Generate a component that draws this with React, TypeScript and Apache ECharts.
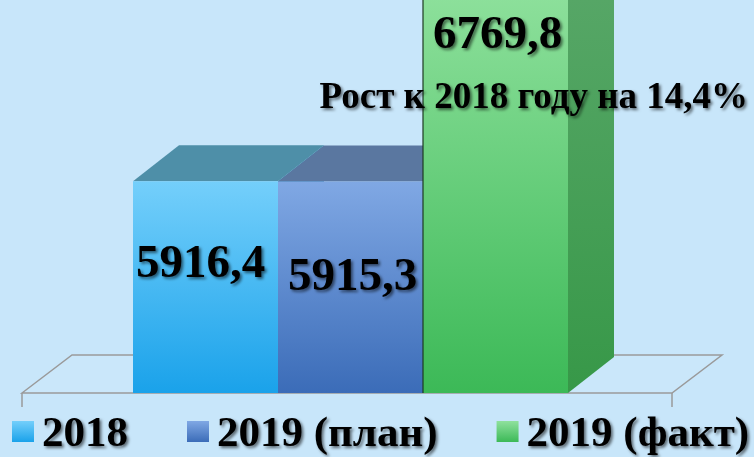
import React, { useEffect, useRef } from "react";
import * as echarts from "echarts";

const categories = ["2018", "2019 (план)", "2019 (факт)"];
const values = [5916.4, 5915.3, 6769.8];
const valueLabels = ["5916,4", "5915,3", "6769,8"];
const growthNote = "Рост к 2018 году на 14,4%";

const Y_MIN = 5000;
const Y_MAX = 6700;

const FONT = '"Liberation Serif", "Times New Roman", serif';
const BG = "#c8e6fa";

// Per-bar visual styles (not data)
const frontColors = [
  ["#74cffb", "#1aa2ea"],
  ["#80a8e4", "#3b6cb8"],
  ["#8fe19d", "#3cb957"],
];
const topColors = ["#4e8fa8", "#5a77a0", "#6cc07c"];
const sideColors = [
  ["#3b8fc0", "#1b7fc0"],
  ["#4d6f9c", "#2f5a96"],
  ["#5aa86a", "#379848"],
];
// label offsets relative to bar center / bar top
const labelDx = [-5, 2, 2];
const labelDy = [80, 93, 48];

const DEPTH_X = 46;
const DEPTH_Y = -36;

const shadowText = {
  textShadowColor: "rgba(0,0,0,0.55)",
  textShadowBlur: 3,
  textShadowOffsetX: 2,
  textShadowOffsetY: 2,
};

function vGrad(c: string[]) {
  return {
    type: "linear",
    x: 0,
    y: 0,
    x2: 0,
    y2: 1,
    colorStops: [
      { offset: 0, color: c[0] },
      { offset: 1, color: c[1] },
    ],
  };
}

function makeBarRender(i: number) {
  return (params: any, api: any) => {
    const idx = api.value(0);
    const v = api.value(1);
    const top = api.coord([idx, v]);
    const base = api.coord([idx, Y_MIN]);
    const bw = api.size([1, 0])[0];
    const x0 = top[0] - bw / 2;
    const x1 = top[0] + bw / 2;
    const yt = top[1];
    const yb = base[1];
    const children: any[] = [
      {
        type: "polygon",
        shape: {
          points: [
            [x1, yb],
            [x1 + DEPTH_X, yb + DEPTH_Y],
            [x1 + DEPTH_X, yt + DEPTH_Y],
            [x1, yt],
          ],
        },
        style: { fill: vGrad(sideColors[i]) },
      },
      {
        type: "polygon",
        shape: {
          points: [
            [x0, yt],
            [x0 + DEPTH_X, yt + DEPTH_Y],
            [x1 + DEPTH_X, yt + DEPTH_Y],
            [x1, yt],
          ],
        },
        style: { fill: topColors[i] },
      },
      {
        type: "rect",
        shape: { x: x0, y: yt, width: bw, height: yb - yt },
        style: { fill: vGrad(frontColors[i]) },
      },
    ];
    if (i === 2) {
      children.push({
        type: "line",
        shape: { x1: x0, y1: yt, x2: x0, y2: yb },
        style: { stroke: "#1d3a22", lineWidth: 1.2 },
      });
    }
    children.push({
      type: "text",
      style: {
        text: valueLabels[i],
        x: top[0] + labelDx[i],
        y: yt + labelDy[i],
        font: `bold 47px ${FONT}`,
        fill: "#000",
        align: "center",
        verticalAlign: "middle",
        textAlign: "center",
        textVerticalAlign: "middle",
        ...shadowText,
      },
    });
    return { type: "group", children };
  };
}

function floorRender(params: any, api: any) {
  const cs = params.coordSys;
  const yb = cs.y + cs.height;
  const xL = cs.x - 111;
  const xR = cs.x + cs.width + 104;
  const dx = 50;
  const dy = -38;
  const stroke = "#9a9a9a";
  return {
    type: "group",
    children: [
      {
        type: "polygon",
        shape: {
          points: [
            [xL, yb],
            [xL + dx, yb + dy],
            [xR + dx, yb + dy],
            [xR, yb],
          ],
        },
        style: { fill: "rgba(255,255,255,0.04)", stroke, lineWidth: 1.5 },
      },
      {
        type: "line",
        shape: { x1: xL, y1: yb, x2: xL, y2: yb + 14 },
        style: { stroke, lineWidth: 1.5 },
      },
      {
        type: "line",
        shape: { x1: xR, y1: yb, x2: xR, y2: yb + 14 },
        style: { stroke, lineWidth: 1.5 },
      },
    ],
  };
}

export default function App() {
  const ref = useRef<HTMLDivElement>(null);
  useEffect(() => {
    if (!ref.current) return;
    const chart = echarts.init(ref.current, undefined, { renderer: "svg" });
    const series: any[] = [
      {
        type: "custom",
        name: "floor",
        z: 1,
        silent: true,
        renderItem: floorRender,
        data: [[0, Y_MIN]],
      },
      ...categories.map((name, i) => ({
        type: "custom",
        name,
        z: 2 + i,
        clip: false,
        renderItem: makeBarRender(i),
        itemStyle: { color: vGrad(frontColors[i]) },
        data: [[i, values[i]]],
      })),
    ];
    chart.setOption({
      animation: false,
      backgroundColor: BG,
      grid: { left: 133, right: 186, top: 0, bottom: 64 },
      xAxis: { type: "category", data: categories, show: false },
      yAxis: { type: "value", min: Y_MIN, max: Y_MAX, show: false },
      legend: {
        data: categories.map((name, i) => ({
          name,
          itemStyle: { color: vGrad(frontColors[i]) },
        })),
        left: 12,
        top: 410,
        padding: 0,
        icon: "rect",
        itemWidth: 22,
        itemHeight: 21,
        itemGap: 59,
        selectedMode: false,
        textStyle: {
          fontFamily: FONT,
          fontWeight: "bold",
          fontSize: 43,
          color: "#000",
          padding: [0, 0, 0, 3],
          ...shadowText,
        },
      },
      graphic: [
        {
          type: "text",
          x: 748,
          y: 95,
          z: 100,
          style: {
            text: growthNote,
            font: `bold 37px ${FONT}`,
            fill: "#000",
            align: "right",
            verticalAlign: "middle",
            textAlign: "right",
            textVerticalAlign: "middle",
            ...shadowText,
          },
        },
      ],
      series,
    });
    return () => chart.dispose();
  }, []);
  return (
    <div
      ref={ref}
      style={{ position: "fixed", left: 0, top: 0, width: 754, height: 457 }}
    />
  );
}
